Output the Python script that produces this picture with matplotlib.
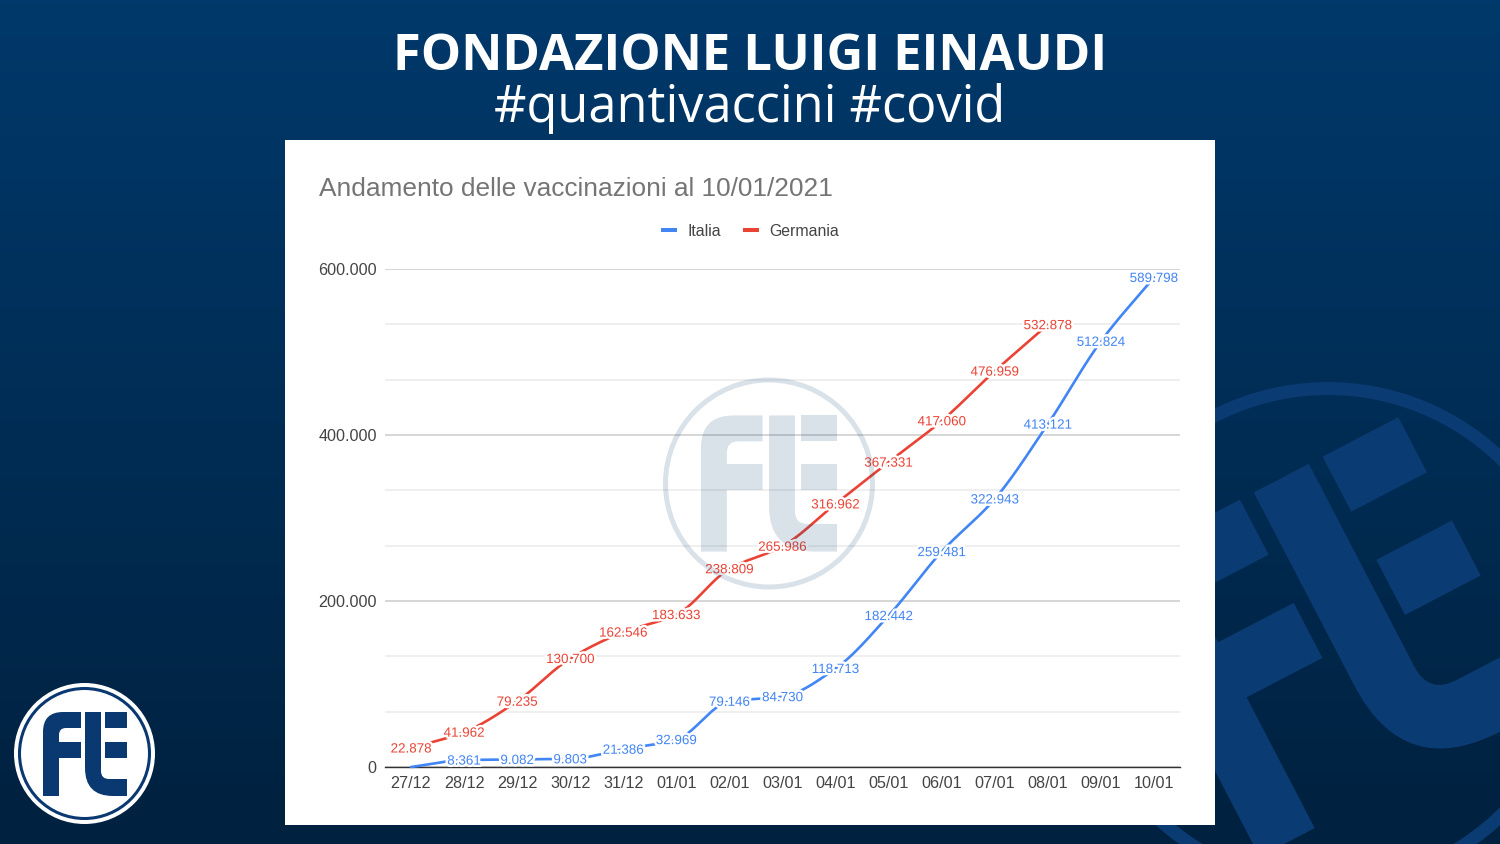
import numpy as np
import matplotlib
matplotlib.use("Agg")
import matplotlib.pyplot as plt
from matplotlib.path import Path
from matplotlib.patches import PathPatch, Circle, Rectangle
from matplotlib.transforms import Affine2D
from matplotlib.ticker import MultipleLocator
from matplotlib.lines import Line2D
import matplotlib.patheffects as pe
from matplotlib.colors import LinearSegmentedColormap

# ---- data ----
dates = ["27/12", "28/12", "29/12", "30/12", "31/12", "01/01", "02/01", "03/01",
         "04/01", "05/01", "06/01", "07/01", "08/01", "09/01", "10/01"]
italia = [0, 8361, 9082, 9803, 21386, 32969, 79146, 84730, 118713, 182442,
          259481, 322943, 413121, 512824, 589798]
germania = [22878, 41962, 79235, 130700, 162546, 183633, 238809, 265986,
            316962, 367331, 417060, 476959, 532878]
y_ticks = [0, 200000, 400000, 600000]
y_labels = ["0", "200.000", "400.000", "600.000"]
title_main = "FONDAZIONE LUIGI EINAUDI"
title_sub = "#quantivaccini #covid"
chart_title = "Andamento delle vaccinazioni al 10/01/2021"

W, H = 1500, 844
BLUE = "#4285f4"
RED = "#ea4335"
fig = plt.figure(figsize=(W / 100, H / 100), dpi=100)


def px_axes(x0, y0, x1, y1, **kw):
    return fig.add_axes([x0 / W, 1 - y1 / H, (x1 - x0) / W, (y1 - y0) / H], **kw)


def smooth(x, y, n=24):
    """Monotone cubic curve through the points, like the source chart's smoothed line."""
    x = np.asarray(x, float)
    y = np.asarray(y, float)
    d = np.diff(y) / np.diff(x)
    m = np.zeros_like(y)
    m[0], m[-1] = d[0], d[-1]
    for i in range(1, len(y) - 1):
        m[i] = 0 if d[i - 1] * d[i] <= 0 else 2 * d[i - 1] * d[i] / (d[i - 1] + d[i])
    xs, ys = [], []
    for i in range(len(x) - 1):
        t = np.linspace(0, 1, n, endpoint=False)
        h = x[i + 1] - x[i]
        xs.append(x[i] + t * h)
        ys.append((2 * t**3 - 3 * t**2 + 1) * y[i] + (t**3 - 2 * t**2 + t) * h * m[i]
                  + (-2 * t**3 + 3 * t**2) * y[i + 1] + (t**3 - t**2) * h * m[i + 1])
    xs.append(x[-1:])
    ys.append(y[-1:])
    return np.concatenate(xs), np.concatenate(ys)


# logo glyph shapes, in pixels of the small logo (centre 85, 754)
M, L, C3 = Path.MOVETO, Path.LINETO, Path.CURVE3
glyph_f = Path([(43, 796), (43, 732), (43, 712), (63, 712), (81, 712), (81, 728), (66, 728),
                (59, 728), (59, 735), (59, 742), (81, 742), (81, 758), (59, 758), (59, 796), (43, 796)],
               [M, L, C3, C3, L, L, L, C3, C3, L, L, L, L, L, L])
glyph_t = Path([(85, 712), (101, 712), (101, 771), (101, 779), (109, 779), (127, 779), (127, 796),
                (113, 796), (85, 796), (85, 768), (85, 712)],
               [M, L, L, C3, C3, L, L, L, C3, C3, L])
glyph_e1 = Path([(105, 712), (127, 712), (127, 728), (105, 728), (105, 712)], [M, L, L, L, L])
glyph_e2 = Path([(105, 742), (127, 742), (127, 758), (105, 758), (105, 742)], [M, L, L, L, L])


def draw_glyph(ax, cx, cy, scale, rot, color, alpha=1.0, zorder=3):
    tr = (Affine2D().translate(-85, -754).scale(scale).rotate_deg(-rot).translate(cx, cy)
          + ax.transData)
    for p in (glyph_f, glyph_t, glyph_e1, glyph_e2):
        ax.add_patch(PathPatch(p, transform=tr, fc=color, ec="none", alpha=alpha, zorder=zorder))


# ---- background layer ----
bg = px_axes(0, 0, W, H)
bg.set_xlim(0, W)
bg.set_ylim(H, 0)
bg.axis("off")
cmap = LinearSegmentedColormap.from_list("bg", ["#00396b", "#00213f"])
bg.imshow(np.linspace(0, 1, 256).reshape(-1, 1), cmap=cmap, aspect="auto",
          extent=(0, W, H, 0), zorder=0)
bg.set_xlim(0, W)
bg.set_ylim(H, 0)

# large rotated emblem
big = "#0a3b72"
bg.add_patch(Circle((1328, 637), 248.5, fc="none", ec=big, lw=13 * 0.72, zorder=1))
draw_glyph(bg, 1329, 637, 3.88, 27.5, big, zorder=1)

# white chart panel
bg.add_patch(Rectangle((285, 140), 930, 685, fc="white", ec="none", zorder=2))

# small logo
bg.add_patch(Circle((84.5, 753.5), 70.5, fc="white", ec="none", zorder=3))
bg.add_patch(Circle((84.5, 753.5), 65, fc="none", ec="#0a3870", lw=2.2, zorder=4))
draw_glyph(bg, 85, 754, 1.0, 0, "#0a3870", zorder=4)

# headings
fig.text(750 / W, 1 - 57 / H, title_main, family="Open Sans", weight="bold", fontsize=36.5,
         color="white", ha="center", va="center")
fig.text(750 / W, 1 - 108.5 / H, title_sub, family="Open Sans", fontsize=36.4,
         color="white", ha="center", va="center")

# ---- chart layer ----
ax = px_axes(384.5, 269, 1180.5, 767)
ax.patch.set_alpha(0)
ax.set_xlim(-0.5, len(dates) - 0.5)
ax.set_ylim(0, 600000)
for s in ("top", "left", "right"):
    ax.spines[s].set_visible(False)
ax.spines["bottom"].set_color("#333333")
ax.spines["bottom"].set_linewidth(1)
ax.spines["bottom"].set_zorder(2.5)

ax.set_yticks(y_ticks, y_labels)
ax.yaxis.set_minor_locator(MultipleLocator(200000 / 3))
ax.set_xticks(range(len(dates)), dates)
ax.grid(True, axis="y", which="major", color="#cccccc", lw=1.1, zorder=1)
ax.grid(True, axis="y", which="minor", color="#ebebeb", lw=1.1, zorder=1)
ax.set_axisbelow(True)
ax.tick_params(axis="both", which="both", length=0)
ax.tick_params(axis="y", pad=5.5, labelsize=11.6, labelcolor="#444444")
ax.tick_params(axis="x", pad=6.5, labelsize=11.6, labelcolor="#444444")
for t in ax.get_xticklabels() + ax.get_yticklabels():
    t.set_family("Liberation Sans")

xi, yi = smooth(range(len(italia)), italia)
ax.plot(xi, yi, color=BLUE, lw=1.9, clip_on=False, zorder=3, solid_capstyle="round")
xg, yg = smooth(range(len(germania)), germania)
ax.plot(xg, yg, color=RED, lw=1.9, clip_on=False, zorder=3, solid_capstyle="round")

halo = [pe.withStroke(linewidth=3.5, foreground="white")]
for values, col in ((italia, BLUE), (germania, RED)):
    for i, v in enumerate(values):
        if v == 0:
            continue
        ax.annotate(f"{v:,}".replace(",", "."), (i, v), xytext=(0, 0),
                    textcoords="offset points", color=col, fontsize=9.65,
                    family="Liberation Sans", ha="center", va="center_baseline",
                    path_effects=halo, zorder=4, annotation_clip=False)

ax.set_title(chart_title, family="Liberation Sans", fontsize=18.9, color="#757575",
             loc="left", x=(319 - 384.5) / 796, y=(767 - 196) / 498, pad=0)

handles = [Line2D([], [], color=BLUE, lw=2.9, solid_capstyle="butt", label="Italia"),
           Line2D([], [], color=RED, lw=2.9, solid_capstyle="butt", label="Germania")]
leg = ax.legend(handles=handles, loc="center", bbox_to_anchor=(750 / W, 1 - 231.5 / H),
                bbox_transform=fig.transFigure, ncol=2, frameon=False, borderpad=0,
                handlelength=1.02, handletextpad=0.62, columnspacing=1.4,
                prop={"family": "Liberation Sans", "size": 11.4})
for t in leg.get_texts():
    t.set_color("#444444")

# ---- watermark over the chart ----
top = px_axes(0, 0, W, H)
top.set_xlim(0, W)
top.set_ylim(H, 0)
top.axis("off")
top.patch.set_alpha(0)
top.add_patch(Circle((769, 483.5), 103.5, fc="none", ec="#003a70", lw=3.6, alpha=0.15, zorder=5))
draw_glyph(top, 769, 483.5, 1.62, 0, "#003a70", alpha=0.15, zorder=5)

fig.savefig("out.png", dpi=100)
